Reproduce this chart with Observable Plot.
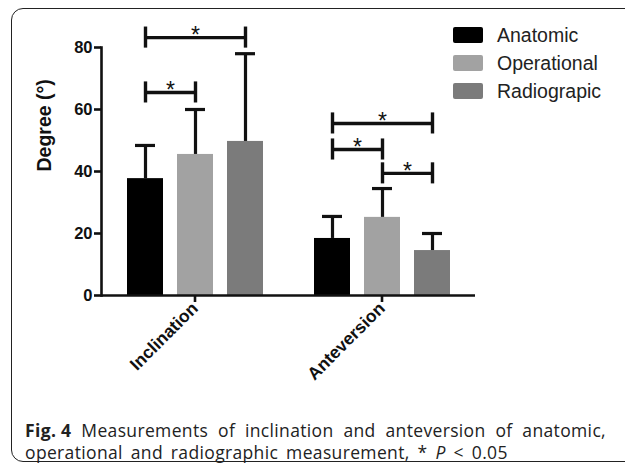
<!DOCTYPE html>
<html>
<head>
<meta charset="utf-8">
<script src="https://cdn.jsdelivr.net/npm/d3@7"></script>
<script src="https://cdn.jsdelivr.net/npm/@observablehq/plot@0.6"></script>
<style>
  html, body { margin: 0; padding: 0; background: #fff; }
  #wrap { position: relative; width: 625px; height: 463px; overflow: hidden; font-family: "Liberation Sans", Arial, sans-serif; }
  #border { position: absolute; left: 11px; top: 8px; width: 640px; height: 454px; border: 1.5px solid #222; border-radius: 12px; box-sizing: border-box; }
  #chart { position: absolute; left: 0; top: 0; }
  #chart svg text { font-family: "Liberation Sans", Arial, sans-serif; }
  #legend { position: absolute; left: 453px; top: 21px; }
  .row { display: flex; align-items: center; height: 28px; }
  .sw { width: 30px; height: 16px; border-radius: 2px; margin-right: 14px; }
  .lab { font-size: 19.5px; color: #222; line-height: 20px; }
  #caption { position: absolute; left: 25px; top: 419px; width: 581px; font-family: "Open Sans", "Noto Sans", sans-serif; font-size: 17.5px; line-height: 22px; letter-spacing: 0.35px; word-spacing: 3px; color: #222; }
  #caption .l1 { white-space: nowrap; text-align: justify; text-align-last: justify; }
  #caption .l2 { white-space: nowrap; text-align: left; }
  #caption .fig { display: inline-block; font-weight: 700; word-spacing: 0; }
</style>
</head>
<body>
<div id="wrap">
  <div id="border"></div>
  <div id="chart"></div>
  <div id="legend"></div>
  <div id="caption"><div class="l1"><span class="fig">Fig. 4</span> Measurements of inclination and anteversion of anatomic,</div><div class="l2">operational and radiographic measurement, * <i>P</i> &lt; 0.05</div></div>
</div>
<script>
// ---- data ----
const groups = ["Inclination", "Anteversion"];
const series = ["Anatomic", "Operational", "Radiograpic"];
const colors = ["#000000", "#a2a2a2", "#7b7b7b"];
const inclinationMean = [37.7, 45.5, 49.7];
const inclinationSD = [10.7, 14.5, 28.3];
const anteversionMean = [18.4, 25.2, 14.5];
const anteversionSD = [7.1, 9.3, 5.5];
const yTicks = [0, 20, 40, 60, 80];
const yLabel = "Degree (°)";

// significance brackets
const bracketGroup = ["Inclination", "Inclination", "Anteversion", "Anteversion", "Anteversion"];
const bracketFrom = ["Anatomic", "Anatomic", "Anatomic", "Anatomic", "Operational"];
const bracketTo = ["Radiograpic", "Operational", "Radiograpic", "Operational", "Radiograpic"];
const bracketLevel = [83.2, 65.5, 55.5, 47.1, 39.4];
const bracketLabel = ["*", "*", "*", "*", "*"];

// ---- tables ----
const table = [];
groups.forEach((g, gi) => {
  const m = gi === 0 ? inclinationMean : anteversionMean;
  const s = gi === 0 ? inclinationSD : anteversionSD;
  series.forEach((k, i) => table.push({group: g, series: k, mean: m[i], top: m[i] + s[i]}));
});
const brackets = bracketGroup.map((g, i) => {
  const a = series.indexOf(bracketFrom[i]), b = series.indexOf(bracketTo[i]);
  return {group: g, from: bracketFrom[i], to: bracketTo[i], level: bracketLevel[i],
          label: bracketLabel[i], span: b - a, mid: series[(a + b) / 2 | 0]};
});
const capHalf = 3.4;
const ink = "#111";

const plot = Plot.plot({
  width: 625,
  height: 400,
  marginLeft: 101,
  marginRight: 150,
  marginTop: 47,
  marginBottom: 105,
  style: {fontFamily: "Liberation Sans, Arial, sans-serif", color: ink, background: "transparent", overflow: "visible"},
  fx: {domain: groups, padding: 0},
  x: {domain: series, paddingInner: 0.287, paddingOuter: 0.495},
  y: {domain: [0, 80]},
  color: {domain: series, range: colors},
  marks: [
    Plot.barY(table, {fx: "group", x: "series", y: "mean", fill: "series"}),
    Plot.ruleX(table, {fx: "group", x: "series", y1: "mean", y2: "top", stroke: ink, strokeWidth: 3.2}),
    Plot.tickY(table, {fx: "group", x: "series", y: "top", stroke: ink, strokeWidth: 3.2, insetLeft: 8, insetRight: 8}),
    Plot.link(brackets, {fx: "group", x1: "from", x2: "to", y1: "level", y2: "level", stroke: ink, strokeWidth: 3.4}),
    Plot.ruleX(brackets, {fx: "group", x: "from", y1: d => d.level - capHalf, y2: d => d.level + capHalf, stroke: ink, strokeWidth: 3.4}),
    Plot.ruleX(brackets, {fx: "group", x: "to", y1: d => d.level - capHalf, y2: d => d.level + capHalf, stroke: ink, strokeWidth: 3.4}),
    Plot.text(brackets, {filter: d => d.span === 2, fx: "group", x: "mid", y: "level", text: "label", fontSize: 23, dy: -2, fill: ink}),
    Plot.text(brackets, {filter: d => d.span === 1, fx: "group", x: "from", y: "level", text: "label", fontSize: 23, dy: -2, dx: 25, fill: ink}),
    Plot.ruleY([0], {stroke: ink, strokeWidth: 2.6}),
    Plot.frame({anchor: "left", facet: "super", stroke: ink, strokeWidth: 2.6}),
    Plot.axisY({ticks: yTicks, tickSize: 7, tickPadding: 2, strokeWidth: 2.6, fontSize: 16.5, fontWeight: "bold", label: null}),
    Plot.text([yLabel], {facet: "super", frameAnchor: "left", rotate: -90, dx: -57, fontSize: 19.5, fontWeight: "bold", fill: ink}),
    Plot.axisFx({anchor: "bottom", tickSize: 7, tickPadding: 3, tickRotate: -45, strokeWidth: 2.6,
                 fontSize: 17.5, fontWeight: "bold", label: null}),
    Plot.axisX({ticks: []})
  ]
});
document.getElementById("chart").appendChild(plot);

// legend
const legend = d3.select("#legend");
series.forEach((k, i) => {
  const row = legend.append("div").attr("class", "row");
  row.append("div").attr("class", "sw").style("background", colors[i]);
  row.append("div").attr("class", "lab").text(k);
});
</script>
</body>
</html>
